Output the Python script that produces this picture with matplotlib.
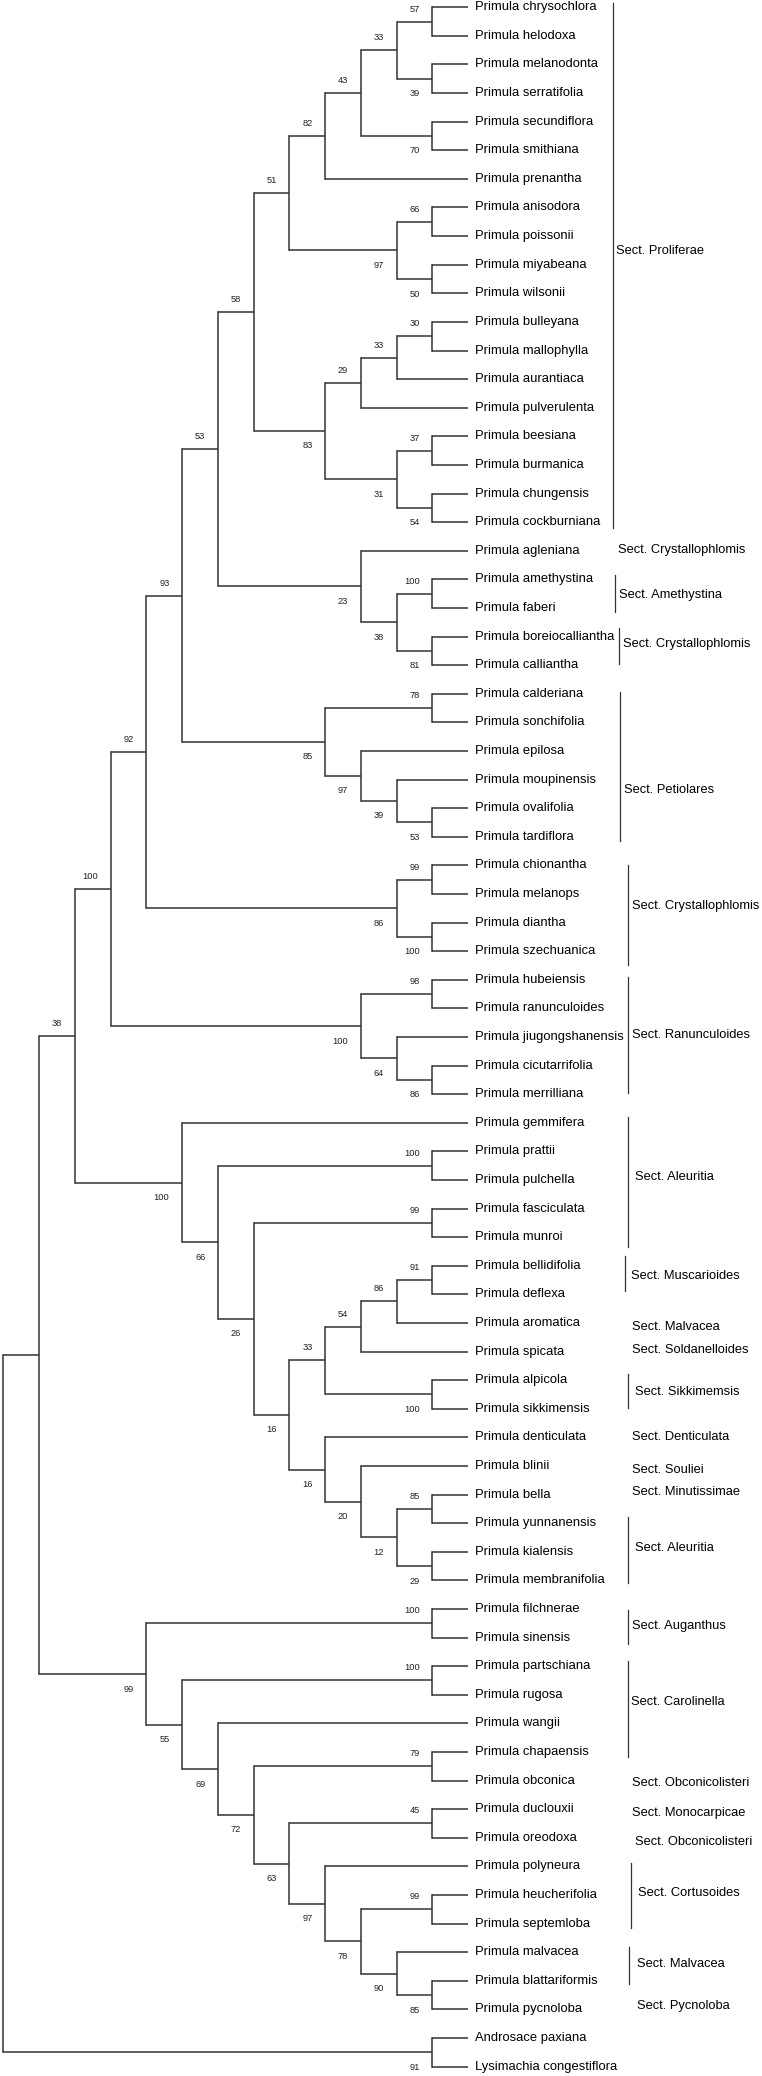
import matplotlib
matplotlib.use('Agg')
import matplotlib.pyplot as plt

plt.rcParams['font.family'] = ['Liberation Sans', 'DejaVu Sans']

# taxa in the order they appear from top to bottom
taxa = [
    'Primula chrysochlora', 'Primula helodoxa', 'Primula melanodonta', 'Primula serratifolia',
    'Primula secundiflora', 'Primula smithiana', 'Primula prenantha', 'Primula anisodora',
    'Primula poissonii', 'Primula miyabeana', 'Primula wilsonii', 'Primula bulleyana',
    'Primula mallophylla', 'Primula aurantiaca', 'Primula pulverulenta', 'Primula beesiana',
    'Primula burmanica', 'Primula chungensis', 'Primula cockburniana', 'Primula agleniana',
    'Primula amethystina', 'Primula faberi', 'Primula boreiocalliantha', 'Primula calliantha',
    'Primula calderiana', 'Primula sonchifolia', 'Primula epilosa', 'Primula moupinensis',
    'Primula ovalifolia', 'Primula tardiflora', 'Primula chionantha', 'Primula melanops',
    'Primula diantha', 'Primula szechuanica', 'Primula hubeiensis', 'Primula ranunculoides',
    'Primula jiugongshanensis', 'Primula cicutarrifolia', 'Primula merrilliana', 'Primula gemmifera',
    'Primula prattii', 'Primula pulchella', 'Primula fasciculata', 'Primula munroi',
    'Primula bellidifolia', 'Primula deflexa', 'Primula aromatica', 'Primula spicata',
    'Primula alpicola', 'Primula sikkimensis', 'Primula denticulata', 'Primula blinii',
    'Primula bella', 'Primula yunnanensis', 'Primula kialensis', 'Primula membranifolia',
    'Primula filchnerae', 'Primula sinensis', 'Primula partschiana', 'Primula rugosa',
    'Primula wangii', 'Primula chapaensis', 'Primula obconica', 'Primula duclouxii',
    'Primula oreodoxa', 'Primula polyneura', 'Primula heucherifolia', 'Primula septemloba',
    'Primula malvacea', 'Primula blattariformis', 'Primula pycnoloba', 'Androsace paxiana',
    'Lysimachia congestiflora',
]

# topology (taxon indices) with bootstrap support after each clade
clade_proliferae = "((((((0,1)57,(2,3)39)33,(4,5)70)43,6)82,((7,8)66,(9,10)50)97)51,((((11,12)30,13)33,14)29,((15,16)37,(17,18)54)31)83)58"
clade_amethystina = "(19,((20,21)100,(22,23)81)38)23"
clade_petiolares = "((24,25)78,(26,(27,(28,29)53)39)97)85"
clade_chionantha = "((30,31)99,(32,33)100)86"
clade_ranunculoides = "((34,35)98,(36,(37,38)86)64)100"
clade_aleuritia = "(39,((40,41)100,((42,43)99,(((((44,45)91,46)86,47)54,(48,49)100)33,(50,(51,((52,53)85,(54,55)29)12)20)16)16)26)66)100"
clade_cortusoides = "((56,57)100,((58,59)100,(60,((61,62)79,((63,64)45,(65,((66,67)99,(68,(69,70)85)90)78)97)63)72)69)55)99"
clade_outgroup = "(71,72)91"

newick = ("(((((((" + clade_proliferae + "," + clade_amethystina + ")53,"
          + clade_petiolares + ")93," + clade_chionantha + ")92,"
          + clade_ranunculoides + ")100," + clade_aleuritia + ")38,"
          + clade_cortusoides + ")," + clade_outgroup + ");")

# section annotations on the right
section_names = ['Sect. Proliferae', 'Sect. Crystallophlomis', 'Sect. Amethystina',
                 'Sect. Crystallophlomis', 'Sect. Petiolares', 'Sect. Crystallophlomis',
                 'Sect. Ranunculoides', 'Sect. Aleuritia', 'Sect. Muscarioides', 'Sect. Malvacea',
                 'Sect. Soldanelloides', 'Sect. Sikkimemsis', 'Sect. Denticulata', 'Sect. Souliei',
                 'Sect. Minutissimae', 'Sect. Aleuritia', 'Sect. Auganthus', 'Sect. Carolinella',
                 'Sect. Obconicolisteri', 'Sect. Monocarpicae', 'Sect. Obconicolisteri',
                 'Sect. Cortusoides', 'Sect. Malvacea', 'Sect. Pycnoloba']
section_first = [0, 19, 20, 22, 24, 30, 34, 39, 44, 46, 47, 48, 50, 51, 52, 53, 56, 58, 62, 63, 64, 65, 68, 70]
section_last = [18, 19, 21, 23, 29, 33, 38, 43, 45, 46, 47, 49, 50, 51, 52, 55, 57, 61, 62, 63, 64, 67, 69, 70]

# hand placement of the bracket bars and section labels (x in px, y in taxon rows)
bar_x = [612.8, None, 615, 619, 620, 628, 628, 628, 624.5, None, None, 628, None, None,
         None, 628, 628, 628, None, None, None, 630.8, 629.3, None]
bar_top = [-0.14, 0, 19.86, 21.71, 23.93, 30.0, 33.9, 38.81, 43.66, 0, 0, 47.79, 0, 0,
           0, 52.8, 56.02, 57.81, 0, 0, 0, 64.87, 67.83, 0]
bar_bottom = [18.21, 0, 21.15, 22.96, 29.15, 33.5, 37.97, 43.34, 44.87, 0, 0, 48.96, 0, 0,
              0, 55.08, 57.23, 61.17, 0, 0, 0, 67.17, 69.12, 0]
label_x = [616, 617.6, 619, 623.3, 623.5, 631.8, 632, 634.7, 630.8, 631.8, 631.8, 634.7, 631.8,
           631.8, 631.8, 634.7, 631.8, 630.8, 631.8, 631.8, 634.7, 638, 636.7, 636.7]
label_y = [8.51, 18.98, 20.56, 22.27, 27.37, 31.42, 35.93, 40.91, 44.36, 46.15, 46.95, 48.43,
           50.0, 51.14, 51.9, 53.86, 56.6, 59.24, 62.08, 63.13, 64.14, 65.94, 68.43, 69.87]


def parse_newick(s):
    pos = 0

    def node():
        nonlocal pos
        if s[pos] == '(':
            pos += 1
            kids = [node()]
            while s[pos] == ',':
                pos += 1
                kids.append(node())
            pos += 1
            start = pos
            while s[pos] not in ',);':
                pos += 1
            lab = s[start:pos]
            return {'kids': kids, 'support': int(lab) if lab else None}
        start = pos
        while s[pos] not in ',);':
            pos += 1
        return {'kids': [], 'leaf': int(s[start:pos]), 'support': None}

    return node()


def layout(n):
    if not n['kids']:
        n['y'] = n['leaf']
        n['h'] = 0
        return
    for k in n['kids']:
        layout(k)
    n['y'] = (n['kids'][0]['y'] + n['kids'][-1]['y']) / 2
    n['h'] = max(k['h'] for k in n['kids']) + 1


LEAF_X = 468
STEP = 35.75
LINE = '#333333'


def xpos(n):
    return LEAF_X - STEP * n['h']


tree = parse_newick(newick)
layout(tree)

fig = plt.figure(figsize=(7.62, 20.76), dpi=100)
ax = fig.add_axes([0, 0, 1, 1])
ax.set_xlim(0, 762)
ax.set_ylim(72.33, -0.255)
ax.axis('off')


def draw(n):
    if not n['kids']:
        return
    x = xpos(n)
    ax.plot([x, x], [n['kids'][0]['y'], n['kids'][-1]['y']], color=LINE, lw=1.1,
            solid_capstyle='projecting')
    for i, k in enumerate(n['kids']):
        ax.plot([x, xpos(k)], [k['y'], k['y']], color=LINE, lw=1.1, solid_capstyle='butt')
        if k['support'] is not None:
            dy = 9 if i == 0 else -10.8
            ax.annotate(str(k['support']), xy=(xpos(k), k['y']), xytext=(-9, dy),
                        textcoords='offset points', ha='right', va='center',
                        fontsize=6.7, color='#222222')
        draw(k)


draw(tree)

for i, name in enumerate(taxa):
    ax.annotate(name, xy=(LEAF_X, i), xytext=(5, 0), textcoords='offset points',
                ha='left', va='center', fontsize=9.4, color='black')

for j, name in enumerate(section_names):
    if bar_x[j] is not None:
        ax.plot([bar_x[j], bar_x[j]], [bar_top[j], bar_bottom[j]], color=LINE, lw=0.9)
    ax.text(label_x[j], label_y[j], name, ha='left', va='center', fontsize=9.3, color='black')

fig.savefig('out.png', dpi=100)
